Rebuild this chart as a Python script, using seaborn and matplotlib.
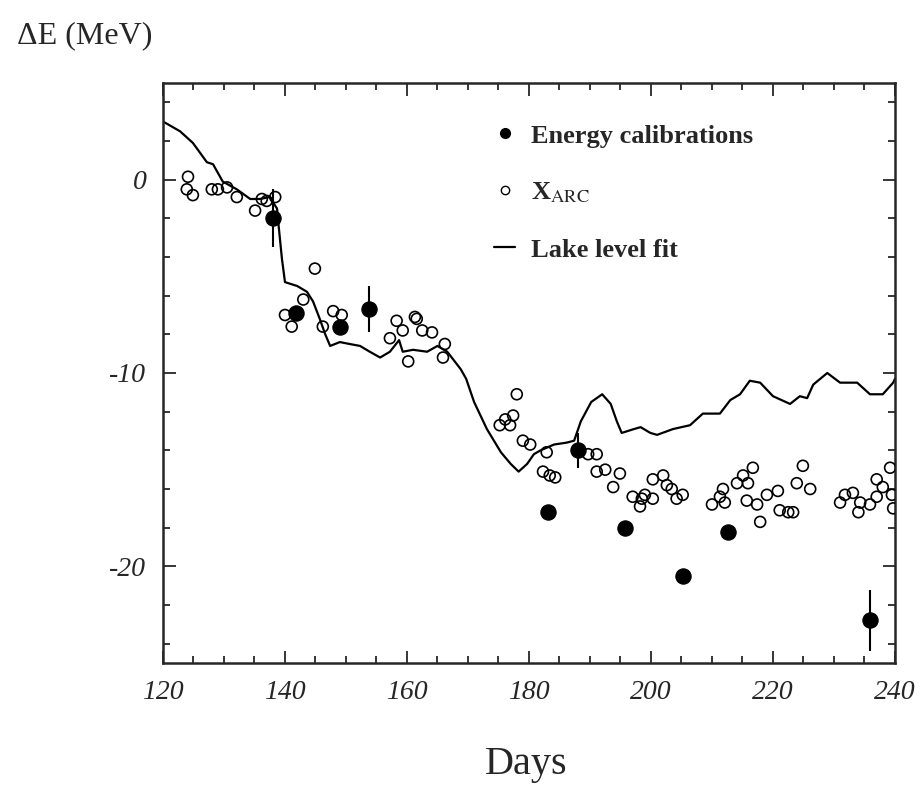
"""Energy shift vs. days: calibrations, X_ARC points and lake level fit."""

import numpy as np
import pandas as pd
import matplotlib
matplotlib.use("Agg")
import matplotlib.pyplot as plt
from matplotlib.ticker import MultipleLocator
from matplotlib.lines import Line2D
import seaborn as sns

# Lake level fit (day, dE)
fit_day = [120.0, 120.6, 122.8, 124.9, 127.2, 128.2, 129.8, 132.1, 134.3, 135.9,
           137.5, 138.7, 138.9, 139.5, 140.0, 142.0, 143.6, 144.6, 145.7, 146.6,
           147.4, 149.0, 150.6, 152.3, 153.9, 155.6, 157.2, 158.7, 159.3, 161.0,
           163.3, 165.0, 166.6, 168.8, 169.7, 171.0, 173.1, 175.4, 177.0, 178.3,
           179.7, 180.8, 181.9, 184.1, 186.2, 187.4, 188.5, 190.2, 192.0, 193.4,
           194.4, 195.2, 197.2, 198.3, 199.9, 201.0, 203.6, 206.4, 208.5, 211.3,
           213.0, 214.6, 216.2, 217.9, 220.0, 222.8, 224.4, 225.6, 226.6, 228.9,
           231.0, 233.8, 235.9, 238.0, 239.7, 240.0]
fit_de = [3.0, 2.9, 2.5, 1.9, 0.9, 0.8, -0.1, -0.5, -1.0, -1.0,
          -0.9, -1.5, -2.2, -4.1, -5.3, -5.5, -5.8, -6.3, -7.2, -8.0,
          -8.6, -8.4, -8.5, -8.6, -8.9, -9.2, -8.9, -8.3, -8.9, -8.8,
          -8.9, -8.6, -8.9, -9.8, -10.3, -11.5, -12.9, -14.1, -14.7, -15.1,
          -14.7, -14.2, -14.0, -13.7, -13.6, -13.5, -12.5, -11.5, -11.1, -11.6,
          -12.5, -13.1, -12.9, -12.8, -13.1, -13.2, -12.9, -12.7, -12.1, -12.1,
          -11.4, -11.1, -10.4, -10.5, -11.2, -11.6, -11.2, -11.3, -10.6, -10.0,
          -10.5, -10.5, -11.1, -11.1, -10.5, -10.3]

# Energy calibrations (filled points) with errors
cal_day = [138.0, 141.8, 149.0, 153.8, 183.1, 188.0, 195.7, 205.2, 212.6, 235.9]
cal_de = [-2.0, -6.9, -7.6, -6.7, -17.2, -14.0, -18.0, -20.5, -18.2, -22.8]
cal_err = [1.5, 0.0, 0.0, 1.2, 0.0, 0.9, 0.0, 0.0, 0.0, 1.6]

# X_ARC (open points)
arc_day = [124.1, 123.9, 124.9, 128.0, 129.0, 130.5, 132.1, 135.1, 136.2, 137.0,
           138.4, 144.9, 140.0, 141.1, 143.0, 146.2, 147.9, 149.3, 157.2, 158.3,
           159.3, 160.2, 161.6, 161.3, 162.5, 164.1, 166.2, 165.9, 178.0, 176.1,
           177.4, 175.2, 176.9, 179.0, 180.2, 182.9, 182.3, 183.4, 184.3, 189.7,
           191.1, 191.1, 192.5, 194.9, 193.8, 197.0, 198.5, 200.3, 198.2, 199.0,
           200.3, 202.0, 202.6, 203.4, 204.2, 205.2, 210.0, 211.3, 212.1, 211.8,
           214.1, 215.1, 216.7, 215.9, 215.7, 217.4, 217.9, 219.0, 220.8, 221.1,
           222.5, 223.3, 223.9, 224.9, 226.1, 231.0, 231.8, 233.1, 234.3, 234.0,
           235.9, 237.0, 237.0, 238.0, 239.2, 239.5, 239.7]
arc_de = [0.15, -0.5, -0.8, -0.5, -0.5, -0.4, -0.9, -1.6, -1.0, -1.1,
          -0.9, -4.6, -7.0, -7.6, -6.2, -7.6, -6.8, -7.0, -8.2, -7.3,
          -7.8, -9.4, -7.2, -7.1, -7.8, -7.9, -8.5, -9.2, -11.1, -12.4,
          -12.2, -12.7, -12.7, -13.5, -13.7, -14.1, -15.1, -15.3, -15.4, -14.2,
          -14.2, -15.1, -15.0, -15.2, -15.9, -16.4, -16.5, -15.5, -16.9, -16.3,
          -16.5, -15.3, -15.8, -16.0, -16.5, -16.3, -16.8, -16.4, -16.7, -16.0,
          -15.7, -15.3, -14.9, -15.7, -16.6, -16.8, -17.7, -16.3, -16.1, -17.1,
          -17.2, -17.2, -15.7, -14.8, -16.0, -16.7, -16.3, -16.2, -16.7, -17.2,
          -16.8, -16.4, -15.5, -15.9, -14.9, -16.3, -17.0]

fit = pd.DataFrame({"day": fit_day, "de": fit_de})
cal = pd.DataFrame({"day": cal_day, "de": cal_de, "err": cal_err})
arc = pd.DataFrame({"day": arc_day, "de": arc_de})

sns.set_style("ticks")
plt.rcParams["font.family"] = ["Liberation Serif", "DejaVu Serif"]
plt.rcParams["mathtext.fontset"] = "stix"
plt.rcParams["axes.unicode_minus"] = False

fig = plt.figure(figsize=(9.24, 7.88), dpi=100)
ax = fig.add_axes([0.1764, 0.1586, 0.7922, 0.7361])

sns.lineplot(data=fit, x="day", y="de", ax=ax, color="black", linewidth=1.6,
             estimator=None, sort=False)
sns.scatterplot(data=arc, x="day", y="de", ax=ax, marker="o", s=62,
                facecolor="none", edgecolor="black", linewidth=1.2, zorder=3)
ax.errorbar(cal["day"], cal["de"], yerr=cal["err"], fmt="none",
            ecolor="black", elinewidth=1.5, capsize=0, zorder=4)
sns.scatterplot(data=cal, x="day", y="de", ax=ax, marker="o", s=120,
                color="black", edgecolor="black", zorder=5)

ax.set_xlim(120, 240)
ax.set_ylim(-25, 5)
ax.xaxis.set_major_locator(MultipleLocator(20))
ax.xaxis.set_minor_locator(MultipleLocator(5))
ax.yaxis.set_major_locator(MultipleLocator(10))
ax.yaxis.set_minor_locator(MultipleLocator(2))
ax.tick_params(which="both", direction="in", top=True, right=True,
               labelsize=20, width=1.3, pad=12)
ax.tick_params(which="major", length=9)
ax.tick_params(which="minor", length=5)
for lab in ax.get_xticklabels() + ax.get_yticklabels():
    lab.set_fontstyle("italic")
for s in ax.spines.values():
    s.set_linewidth(1.8)

ax.set_xlabel("")
ax.set_ylabel("")
fig.text(0.018, 0.955, "ΔE (MeV)", fontsize=23, ha="left", va="center")
fig.text(0.57, 0.03, "Days", fontsize=29, ha="center", va="center")

handles = [
    Line2D([], [], marker="o", linestyle="none", color="black", markersize=7),
    Line2D([], [], marker="o", linestyle="none", markerfacecolor="none",
           markeredgecolor="black", markersize=6),
    Line2D([], [], color="black", linewidth=1.6),
]
labels = ["Energy calibrations", r"X$_{\mathrm{ARC}}$", "Lake level fit"]
ax.legend(handles, labels, loc="upper left", bbox_to_anchor=(0.42, 0.97),
          frameon=False, handlelength=0.8, handletextpad=0.6,
          labelspacing=1.25, prop={"weight": "bold", "size": 19})

fig.savefig("out.png", dpi=100)
